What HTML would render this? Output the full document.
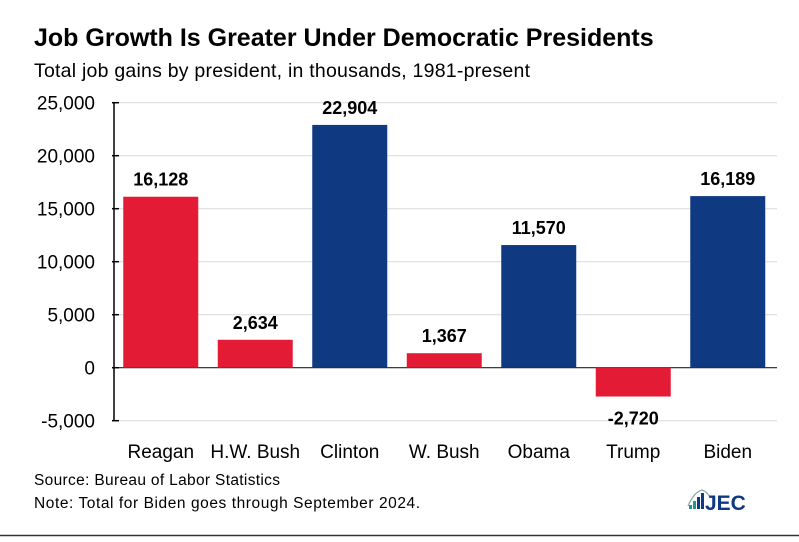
<!DOCTYPE html>
<html><head><meta charset="utf-8"><style>
body{margin:0;background:#fff;width:799px;height:537px;overflow:hidden;font-family:"Liberation Sans",sans-serif}
</style></head><body>
<svg width="799" height="537" xmlns="http://www.w3.org/2000/svg" font-family="Liberation Sans, sans-serif">
<text x="34" y="46" font-size="25" font-weight="bold" fill="#000">Job Growth Is Greater Under Democratic Presidents</text>
<text x="34" y="77" font-size="19.5" fill="#000" textLength="496">Total job gains by president, in thousands, 1981-present</text>
<g id="grid"></g><g id="bars"></g><g id="labels"></g>
<text x="34" y="485" font-size="15.5" fill="#000" textLength="246">Source: Bureau of Labor Statistics</text>
<text x="34" y="508" font-size="15.5" fill="#000" textLength="386">Note: Total for Biden goes through September 2024.</text>
<g>
<path d="M688 506 q6-14 14-16 q6 2 8 8" fill="none" stroke="#8aa" stroke-width="1.2"/>
<rect x="689" y="505" width="3" height="4" fill="#1a9a8a"/><rect x="693" y="501" width="3" height="8" fill="#1a9a8a"/><rect x="697" y="497" width="3" height="12" fill="#0f3a82"/><rect x="701" y="493" width="3" height="16" fill="#0f3a82"/>
<text x="705" y="510" font-size="21" font-weight="bold" fill="#0f3a82">JEC</text>
</g>
<line x1="0" y1="535.5" x2="799" y2="535.5" stroke="#333" stroke-width="1.5"/>
</svg>
<script>
const categories=["Reagan","H.W. Bush","Clinton","W. Bush","Obama","Trump","Biden"];
const values=[16128,2634,22904,1367,11570,-2720,16189];
const valueLabels=["16,128","2,634","22,904","1,367","11,570","-2,720","16,189"];
const parties=["R","R","D","R","D","R","D"];
const ticks=[25000,20000,15000,10000,5000,0,-5000];
const tickLabels=["25,000","20,000","15,000","10,000","5,000","0","-5,000"];
const NS="http://www.w3.org/2000/svg";
const y=v=>367.7-v*53/5000;
const bandW=94.5,x0=113.5;
const x=i=>x0+i*bandW;
function mk(t,a,p,txt){const e=document.createElementNS(NS,t);for(const k in a)e.setAttribute(k,a[k]);if(txt!=null)e.textContent=txt;p.appendChild(e);return e;}
const g=document.getElementById('grid'),b=document.getElementById('bars'),l=document.getElementById('labels');
ticks.forEach((t,i)=>{
 const gl=mk('line',{x1:119,x2:777,y1:y(t),y2:y(t),stroke:t===0?'#222':'#d9d9d9','stroke-width':t===0?1.2:1},g);
 
 
 const tk=mk('line',{x1:112,x2:119,y1:y(t),y2:y(t),stroke:'#000','stroke-width':1.5},g);
 
 
 const tl=mk('text',{x:95,y:y(t)+7,'font-size':19,'text-anchor':'end',fill:'#000'},g,tickLabels[i]);
 
 
});
const ax=mk('line',{x1:114,x2:114,y1:y(25000),y2:y(-5000),stroke:'#000','stroke-width':1.5},g);


categories.forEach((c,i)=>{
 const v=values[i],cx=x(i)+bandW/2;
 const r=mk('rect',{x:cx-37.5,width:75,y:Math.min(y(v),y(0)),height:Math.abs(y(v)-y(0)),fill:parties[i]==='D'?'#0f3a82':'#e31b35'},b);
 
 
 const vl=mk('text',{x:cx,y:v>=0?y(v)-11:y(v)+28,'font-size':18,'font-weight':'bold','text-anchor':'middle',fill:'#000'},l,valueLabels[i]);
 
 
 const cl=mk('text',{x:cx,y:458,'font-size':19,'text-anchor':'middle',fill:'#000'},l,c);
 
 
});
</script>
</body></html>
